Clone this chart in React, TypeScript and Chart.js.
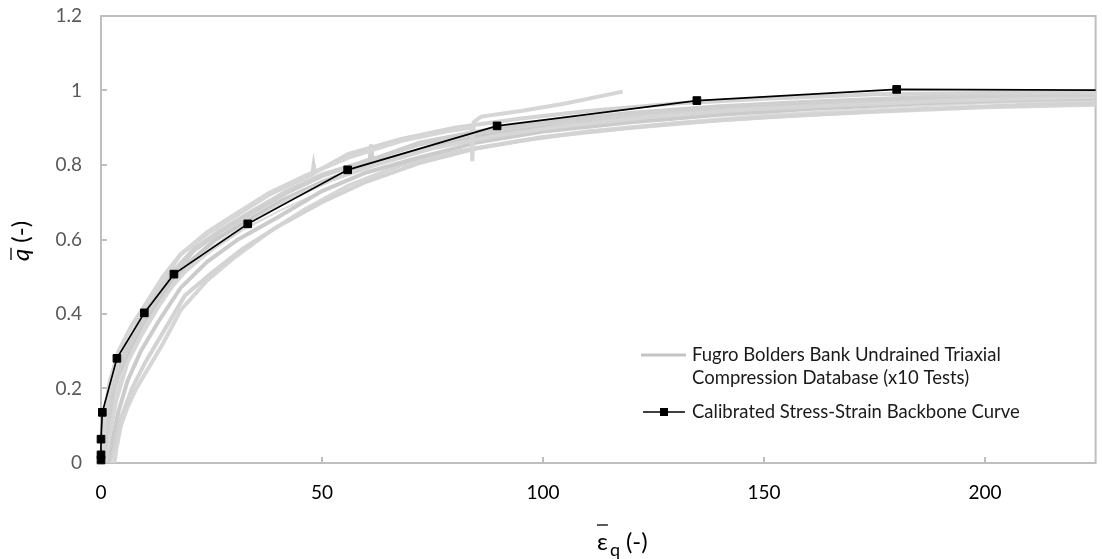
import React, { useEffect, useRef } from "react";
import { Chart, registerables } from "chart.js";

Chart.register(...registerables);

// ---------- data ----------
const X_TICKS = [0, 50, 100, 150, 200];
const Y_TICKS = [0, 0.2, 0.4, 0.6, 0.8, 1, 1.2];

const BACKBONE_X = [0, 0, 0, 0.3, 3.6, 9.8, 16.5, 33.2, 55.8, 89.6, 134.8, 180, 250];
const BACKBONE_Y = [0.008, 0.022, 0.064, 0.136, 0.281, 0.403, 0.507, 0.642, 0.787, 0.905, 0.973, 1.003, 1.0];

const TEST_1 = [[0, 0], [0.5, 0.08], [1, 0.15], [2, 0.22], [4, 0.3], [7, 0.37], [10, 0.425], [14, 0.5], [18, 0.56], [24, 0.62], [30, 0.665], [38, 0.725], [46, 0.77], [56, 0.82], [68, 0.865], [78, 0.89], [83.8, 0.9], [84, 0.81], [84.3, 0.915], [86, 0.93], [95, 0.945], [105, 0.965], [118, 0.997]];
const TEST_2 = [[0.2, 0], [1, 0.13], [2, 0.21], [4, 0.3], [7, 0.37], [10, 0.42], [14, 0.49], [18, 0.56], [24, 0.615], [30, 0.66], [38, 0.72], [47.8, 0.775], [48.1, 0.8], [48.4, 0.78], [56, 0.83], [68, 0.87], [80, 0.9], [95, 0.925], [110, 0.945], [130, 0.965], [150, 0.978], [175, 0.99], [200, 0.993], [230, 0.995]];
const TEST_3 = [[0.5, 0], [1.5, 0.1], [3, 0.2], [5, 0.28], [8, 0.35], [12, 0.43], [16, 0.5], [21, 0.57], [27, 0.62], [34, 0.67], [42, 0.725], [50, 0.77], [60.8, 0.815], [61.1, 0.855], [61.4, 0.815], [72, 0.86], [85, 0.89], [100, 0.915], [120, 0.94], [140, 0.958], [160, 0.97], [185, 0.982], [210, 0.988], [230, 0.99]];
const TEST_4 = [[1, 0], [2, 0.08], [3.5, 0.17], [6, 0.27], [9, 0.34], [13, 0.42], [17, 0.49], [22, 0.55], [28, 0.6], [35, 0.655], [43, 0.71], [52, 0.76], [62, 0.8], [75, 0.845], [90, 0.88], [105, 0.905], [125, 0.93], [145, 0.948], [165, 0.96], [190, 0.972], [215, 0.98], [230, 0.985]];
const TEST_5 = [[1.5, 0], [2.5, 0.06], [4, 0.14], [6, 0.22], [9, 0.3], [13, 0.38], [18, 0.47], [24, 0.54], [31, 0.6], [40, 0.66], [50, 0.73], [60, 0.78], [72, 0.82], [85, 0.86], [100, 0.89], [120, 0.915], [140, 0.935], [160, 0.95], [185, 0.965], [210, 0.975], [230, 0.98]];
const TEST_6 = [[2, 0], [3, 0.05], [4.5, 0.12], [7, 0.2], [10, 0.27], [14, 0.35], [19, 0.45], [25, 0.51], [32, 0.575], [40, 0.635], [50, 0.7], [60, 0.755], [72, 0.805], [85, 0.845], [100, 0.875], [120, 0.9], [140, 0.92], [160, 0.935], [185, 0.95], [210, 0.962], [230, 0.968]];
const TEST_7 = [[3, 0], [3.5, 0.04], [4.5, 0.1], [6, 0.15], [8, 0.2], [10, 0.24], [14, 0.32], [18, 0.41], [24, 0.49], [30, 0.55], [38, 0.62], [46, 0.68], [56, 0.745], [68, 0.8], [80, 0.835], [95, 0.865], [110, 0.89], [130, 0.912], [150, 0.928], [175, 0.943], [200, 0.955], [230, 0.963]];
const TEST_8 = [[0.5, 0], [2, 0.12], [4, 0.22], [7, 0.3], [10, 0.37], [14, 0.44], [19, 0.51], [25, 0.57], [32, 0.625], [40, 0.675], [50, 0.73], [60, 0.78], [72, 0.815], [86, 0.846], [98, 0.87], [109, 0.888], [130, 0.915], [150, 0.935], [175, 0.952], [200, 0.966], [230, 0.975]];
const TEST_9 = [[1, 0], [2, 0.1], [3, 0.17], [5, 0.26], [8, 0.33], [11, 0.4], [15, 0.47], [20, 0.54], [26, 0.6], [33, 0.65], [41, 0.705], [50, 0.755], [60, 0.8], [72, 0.84], [85, 0.875], [100, 0.9], [120, 0.925], [140, 0.945], [160, 0.958], [185, 0.97], [210, 0.978], [230, 0.982]];
const TEST_10 = [[0.3, 0], [1, 0.09], [2, 0.17], [4, 0.26], [6, 0.32], [9, 0.39], [12, 0.45], [16, 0.51], [21, 0.575], [27, 0.625], [34, 0.675], [42, 0.73], [50, 0.775], [60, 0.81], [72, 0.855], [85, 0.885], [100, 0.91], [120, 0.935], [140, 0.955], [160, 0.967], [185, 0.978], [210, 0.985], [230, 0.99]];

const TESTS = [TEST_1, TEST_2, TEST_3, TEST_4, TEST_5, TEST_6, TEST_7, TEST_8, TEST_9, TEST_10];
const TEST_COLORS = ["#d6d6d6", "#d4d4d4", "#cfcfcf", "#d6d6d6", "#cbcbcb", "#d3d3d3", "#d6d6d6", "#dcdcdc", "#c9c9c9", "#d2d2d2"];

const LEGEND_TEST_1 = "Fugro Bolders Bank Undrained Triaxial";
const LEGEND_TEST_2 = "Compression Database (x10 Tests)";
const LEGEND_BACKBONE = "Calibrated Stress-Strain Backbone Curve";

const FONT = "Lato, 'Noto Sans', 'DejaVu Sans', sans-serif";

const decorPlugin = {
  id: "decor",
  beforeDatasetsDraw(chart: any) {
    const { ctx, chartArea: a, scales } = chart;
    ctx.save();
    ctx.strokeStyle = "#bfbfbf";
    ctx.lineWidth = 2;
    ctx.strokeRect(a.left, a.top, a.right - a.left, a.bottom - a.top);
    ctx.beginPath();
    for (const v of Y_TICKS) {
      const y = Math.round(scales.y.getPixelForValue(v));
      ctx.moveTo(a.left, y);
      ctx.lineTo(a.left + 6, y);
    }
    for (const v of X_TICKS) {
      const x = Math.round(scales.x.getPixelForValue(v));
      ctx.moveTo(x, a.bottom);
      ctx.lineTo(x, a.bottom - 6);
    }
    ctx.stroke();
    ctx.restore();
  },
  afterDraw(chart: any) {
    const { ctx } = chart;
    ctx.save();
    // legend
    ctx.lineCap = "butt";
    ctx.strokeStyle = "#c4c4c4";
    ctx.lineWidth = 3;
    ctx.beginPath();
    ctx.moveTo(641, 355);
    ctx.lineTo(686, 355);
    ctx.stroke();
    ctx.strokeStyle = "#000";
    ctx.lineWidth = 1.6;
    ctx.beginPath();
    ctx.moveTo(643, 412);
    ctx.lineTo(685, 412);
    ctx.stroke();
    ctx.fillStyle = "#000";
    ctx.fillRect(660, 408, 8, 8);
    ctx.font = `18.5px ${FONT}`;
    ctx.textBaseline = "middle";
    ctx.textAlign = "left";
    ctx.fillStyle = "#1a1a1a";
    ctx.fillText(LEGEND_TEST_1, 692, 355);
    ctx.fillText(LEGEND_TEST_2, 692, 378);
    ctx.fillText(LEGEND_BACKBONE, 692, 412);

    // x title
    ctx.textBaseline = "alphabetic";
    ctx.fillStyle = "#000";
    ctx.font = `24px ${FONT}`;
    let x = 597;
    ctx.fillText("ε", x, 550);
    const wE = ctx.measureText("ε").width;
    ctx.strokeStyle = "#000";
    ctx.lineWidth = 1.3;
    ctx.beginPath();
    ctx.moveTo(x, 525);
    ctx.lineTo(x + wE, 525);
    ctx.stroke();
    x += wE + 2;
    ctx.font = `18px ${FONT}`;
    ctx.fillText("q", x, 556);
    x += ctx.measureText("q").width + 6;
    ctx.font = `24px ${FONT}`;
    ctx.fillText("(-)", x, 550);

    // y title
    ctx.translate(29, 241);
    ctx.rotate(-Math.PI / 2);
    ctx.font = `italic 24px ${FONT}`;
    const wq = ctx.measureText("q").width;
    ctx.font = `24px ${FONT}`;
    const wr = ctx.measureText(" (-)").width;
    const total = wq + wr;
    let tx = -total / 2;
    ctx.font = `italic 24px ${FONT}`;
    ctx.fillText("q", tx, 0);
    ctx.beginPath();
    ctx.moveTo(tx + 1, -18);
    ctx.lineTo(tx + wq + 1, -18);
    ctx.stroke();
    tx += wq;
    ctx.font = `24px ${FONT}`;
    ctx.fillText(" (-)", tx, 0);
    ctx.restore();
  },
};

export default function App() {
  const ref = useRef<HTMLCanvasElement | null>(null);

  useEffect(() => {
    if (!ref.current) return;
    const testSets = TESTS.map((t, i) => ({
      label: `Test ${i + 1}`,
      data: t.map(([x, y]) => ({ x, y })),
      borderColor: TEST_COLORS[i],
      backgroundColor: TEST_COLORS[i],
      borderWidth: i === 7 ? 2 : 4,
      pointRadius: 0,
      showLine: true,
      tension: 0,
      order: 2,
      clip: { left: 0, top: 0, right: 0, bottom: 0 },
    }));
    const chart = new Chart(ref.current, {
      type: "scatter",
      data: {
        datasets: [
          ...testSets,
          {
            label: LEGEND_BACKBONE,
            data: BACKBONE_X.map((x, i) => ({ x, y: BACKBONE_Y[i] })),
            borderColor: "#000",
            backgroundColor: "#000",
            borderWidth: 1.7,
            pointStyle: "rect",
            pointRadius: 5.4,
            pointBorderWidth: 1,
            showLine: true,
            order: 1,
            clip: { left: 10, top: 0, right: 0, bottom: 10 },
          },
        ],
      },
      options: {
        responsive: false,
        devicePixelRatio: 1,
        animation: false,
        layout: { padding: { top: 16, right: 4, left: 0, bottom: 0 } },
        plugins: { legend: { display: false }, tooltip: { enabled: false } },
        scales: {
          x: {
            type: "linear",
            min: 0,
            max: 225,
            afterBuildTicks: (s: any) => {
              s.ticks = X_TICKS.map((v) => ({ value: v }));
            },
            afterFit: (s: any) => {
              s.height = 96;
              s.paddingLeft = 0;
              s.paddingRight = 0;
            },
            grid: { display: false, drawTicks: false },
            border: { display: false },
            ticks: {
              color: "#000",
              font: { family: FONT, size: 19 },
              padding: 18,
              maxRotation: 0,
              callback: (v: any) => String(v),
            },
          },
          y: {
            type: "linear",
            min: 0,
            max: 1.2,
            afterBuildTicks: (s: any) => {
              s.ticks = Y_TICKS.map((v) => ({ value: v }));
            },
            afterFit: (s: any) => {
              s.width = 101;
              s.paddingTop = 0;
              s.paddingBottom = 0;
            },
            grid: { display: false, drawTicks: false },
            border: { display: false },
            ticks: {
              color: "#595959",
              font: { family: FONT, size: 19 },
              padding: 19,
              callback: (v: any) => String(Math.round(v * 10) / 10),
            },
          },
        },
      },
      plugins: [decorPlugin],
    });
    return () => chart.destroy();
  }, []);

  return (
    <div style={{ position: "absolute", left: 0, top: 0, width: 1102, height: 559, background: "#fff" }}>
      <canvas ref={ref} width={1102} height={559} style={{ display: "block", width: 1102, height: 559 }} />
    </div>
  );
}
